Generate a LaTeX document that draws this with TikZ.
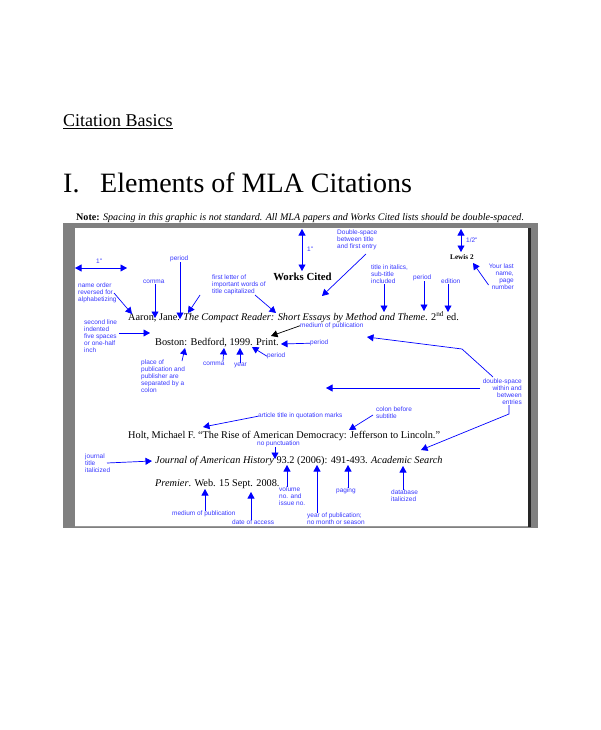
\documentclass[tikz,border=0pt]{standalone}
\usepackage{fontspec}
\setmainfont{Liberation Serif}
\newfontfamily\tagfont{Liberation Sans}
\usetikzlibrary{arrows.meta}
\definecolor{mlablue}{RGB}{0,0,255}
\definecolor{tagblue}{RGB}{55,55,255}
\definecolor{framegray}{RGB}{128,128,128}
\tikzset{
	tag/.style={inner sep=0pt, anchor=north west, text=tagblue, align=left, font=\tagfont\fontsize{6.5}{7}\selectfont},
	rtag/.style={tag, anchor=north east, align=right},
	ptr/.style={draw=mlablue, line width=0.7pt, -{Triangle[width=7pt,length=6.5pt]}},
	span/.style={draw=mlablue, line width=0.7pt, {Triangle[width=7pt,length=6.5pt]}-{Triangle[width=7pt,length=6.5pt]}},
	cite/.style={inner sep=0pt, anchor=base west, font=\fontsize{10.3}{12}\selectfont}
}

\begin{document}
\begin{tikzpicture}[x=1pt, y=-1pt]
			%%%%% START %%%%%
			\useasboundingbox (0, 0) rectangle (600, 730);
			
			\node[inner sep=0pt, anchor=base west, font=\fontsize{18}{20}\selectfont] (basics) at (63, 127) {\underline{Citation Basics}};
			\node[inner sep=0pt, anchor=base west, font=\fontsize{28}{30}\selectfont] (roman) at (63, 193) {I.};
			\node[inner sep=0pt, anchor=base west, font=\fontsize{28}{30}\selectfont] (heading) at (100, 193) {Elements of MLA Citations};
			\node[inner sep=0pt, anchor=base west, font=\fontsize{10.1}{11}\selectfont] (note) at (76, 220) {\textbf{Note:} \textit{Spacing in this graphic is not standard. All MLA papers and Works Cited lists should be double-spaced.}};
			
			% page frame
			\fill[framegray] (63, 223) rectangle (538, 528);
			\fill[white] (75, 227.5) rectangle (528, 526.5);
			\fill[black!85] (528, 227.5) rectangle (531, 527);
			\draw[black!40, line width=0.6pt] (75, 526.5) -- (528, 526.5);
			
			% header of the sample page
			\node[inner sep=0pt, anchor=base, font=\fontsize{10.8}{12}\selectfont\bfseries] (works) at (302.5, 280) {Works Cited};
			\node[inner sep=0pt, anchor=base west, font=\fontsize{7.2}{8}\selectfont\bfseries] (lewis) at (450, 259.5) {Lewis 2};
			
			\coordinate (topA) at (302, 229);
			\coordinate (topB) at (302, 271);
			\draw[span] (topA) -- (topB);
			\node[tag] (inch) at (307, 247) {1"};
			
			\coordinate (halfA) at (461, 229);
			\coordinate (halfB) at (461, 252);
			\draw[span] (halfA) -- (halfB);
			\node[tag] (half) at (466, 238) {1/2"};
			
			\node[rtag] (yourname) at (514, 264) {Your last\\name,\\page\\number};
			\coordinate (tLewis) at (473, 263);
			\draw[ptr] (yourname.west |- 0, 285) -- (tLewis);
			
			\node[tag] (dbltitle) at (337, 230) {Double-space\\between title\\and first entry};
			\coordinate (tGap) at (322, 296);
			\draw[ptr] (366, 254) -- (tGap);
			
			% first entry
			\node[cite] (aaron) at (128, 320) {Aaron, Jane. \textit{The Compact Reader: Short Essays by Method and Theme}. 2\textsuperscript{nd} ed.};
			\node[cite] (boston) at (155, 345) {Boston: Bedford, 1999. Print.};
			
			\coordinate (marginA) at (75, 268);
			\coordinate (marginB) at (127, 268);
			\draw[span] (marginA) -- (marginB);
			\node[tag] (inchL) at (96, 259) {1"};
			
			\node[tag] (nameorder) at (78, 283) {name order\\reversed for\\alphabetizing};
			\coordinate (tName) at (132, 314);
			\draw[ptr] (114, 293) -- (tName);
			
			\node[tag] (commaA) at (143, 280) {comma};
			\coordinate (tCommaA) at (155, 318);
			\draw[ptr] (commaA.south -| tCommaA) -- (tCommaA);
			
			\node[tag] (periodA) at (170, 256) {period};
			\coordinate (tPeriodA) at (180, 319);
			\draw[ptr] (periodA.south -| tPeriodA) -- (tPeriodA);
			
			\node[tag] (capital) at (212, 275) {first letter of\\important words of\\title capitalized};
			\coordinate (tCapA) at (188, 313);
			\coordinate (tCapB) at (276, 313);
			\draw[ptr] (200, 295) -- (tCapA);
			\draw[ptr] (255, 295) -- (tCapB);
			
			\node[tag] (italics) at (371, 265) {title in italics,\\sub-title\\included};
			\coordinate (tItalics) at (384, 312);
			\draw[ptr] (italics.south -| tItalics) -- (tItalics);
			
			\node[tag] (periodB) at (413, 275) {period};
			\coordinate (tPeriodB) at (424, 311);
			\draw[ptr] (periodB.south -| tPeriodB) -- (tPeriodB);
			
			\node[tag] (edition) at (441, 279) {edition};
			\coordinate (tEdition) at (448, 312);
			\draw[ptr] (edition.south -| tEdition) -- (tEdition);
			
			\node[tag] (indent) at (84, 320) {second line\\indented\\five spaces\\or one-half\\inch};
			\coordinate (tIndent) at (150, 333);
			\draw[ptr] (119, 333) -- (tIndent);
			
			\node[tag] (mediumA) at (300, 322.5) {medium of publication};
			\coordinate (tMediumA) at (271, 336);
			\draw[black, line width=0.7pt, -{Triangle[width=7pt,length=6.5pt]}] (mediumA.west) -- (tMediumA);
			
			\node[tag] (periodC) at (310, 340) {period};
			\coordinate (tPeriodC) at (281, 344);
			\draw[ptr] (periodC.west) -- (tPeriodC);
			
			\node[tag] (place) at (141, 360) {place of\\publication and\\publisher are\\separated by a\\colon};
			\coordinate (tPlace) at (185, 348);
			\draw[ptr] (182, 361) -- (tPlace);
			
			\node[tag] (commaB) at (203, 362) {comma};
			\coordinate (tCommaB) at (224, 348);
			\draw[ptr] (223, 361) -- (tCommaB);
			
			\node[tag] (year) at (234, 363) {year};
			\coordinate (tYear) at (240, 348);
			\draw[ptr] (year.north -| tYear) -- (tYear);
			
			\node[tag] (periodD) at (267, 353) {period};
			\coordinate (tPeriodD) at (252, 347);
			\draw[ptr] (periodD.west) -- (tPeriodD);
			
			% spacing between entries
			\node[rtag] (dblentry) at (522, 379) {double-space\\within and\\between\\entries};
			\coordinate (tGapA) at (367, 337);
			\coordinate (tGapB) at (326, 388);
			\coordinate (tGapC) at (421, 450);
			\draw[ptr] (493, 377) -- (462, 349) -- (tGapA);
			\draw[ptr] (480, 388) -- (tGapB);
			\draw[ptr] (509, 405) -- (509, 414) -- (tGapC);
			
			% second entry
			\node[cite] (holt) at (128, 438) {Holt, Michael F. ``The Rise of American Democracy: Jefferson to Lincoln.''};
			\node[cite] (journal) at (155, 463) {\textit{Journal of American History} 93.2 (2006): 491-493. \textit{Academic Search}};
			\node[cite] (premier) at (155, 486) {\textit{Premier}. Web. 15 Sept. 2008.};
			
			\node[tag] (article) at (258, 413) {article title in quotation marks};
			\coordinate (tArticle) at (203, 427);
			\draw[ptr] (article.west) -- (tArticle);
			
			\node[tag] (colon) at (376, 407) {colon before\\subtitle};
			\coordinate (tColon) at (349, 430);
			\draw[ptr] (373, 415) -- (tColon);
			
			\node[tag] (nopunct) at (257, 441) {no punctuation};
			\coordinate (tNoPunct) at (275, 459);
			\draw[ptr] (nopunct.south -| tNoPunct) -- (tNoPunct);
			
			\node[tag] (jtitle) at (85, 454) {journal\\title\\italicized};
			\coordinate (tJournal) at (152, 461);
			\draw[ptr] (107, 463) -- (tJournal);
			
			\node[tag] (volume) at (279, 487) {volume\\no. and\\issue no.};
			\coordinate (tVolume) at (287, 465);
			\draw[ptr] (volume.north -| tVolume) -- (tVolume);
			
			\node[tag] (pubyear) at (307, 513) {year of publication;\\no month or season};
			\coordinate (tPubYear) at (317, 465);
			\draw[ptr] (pubyear.north -| tPubYear) -- (tPubYear);
			
			\node[tag] (paging) at (336, 488) {paging};
			\coordinate (tPaging) at (348, 465);
			\draw[ptr] (paging.north -| tPaging) -- (tPaging);
			
			\node[tag] (database) at (391, 490) {database\\italicized};
			\coordinate (tDatabase) at (403, 466);
			\draw[ptr] (database.north -| tDatabase) -- (tDatabase);
			
			\node[tag] (mediumB) at (172, 511) {medium of publication};
			\coordinate (tMediumB) at (205, 489);
			\draw[ptr] (mediumB.north -| tMediumB) -- (tMediumB);
			
			\node[tag] (access) at (232, 520) {date of access};
			\coordinate (tAccess) at (251, 492);
			\draw[ptr] (access.north -| tAccess) -- (tAccess);
			
			%%%%% END %%%%%
\end{tikzpicture}
\end{document}
